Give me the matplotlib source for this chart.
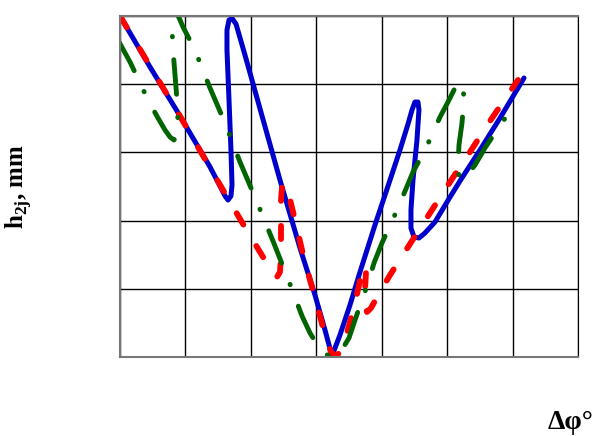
import matplotlib.pyplot as plt

plt.rcParams['lines.scale_dashes'] = False
plt.rcParams['mathtext.fontset'] = 'custom'
plt.rcParams['mathtext.rm'] = 'Liberation Serif:bold'
plt.rcParams['mathtext.bf'] = 'Liberation Serif:bold'

# curves (x in grid cells of dphi, y in grid cells of h)
blue_x = [0.000, 0.459, 0.871, 1.223, 1.376, 1.528, 1.605, 1.651, 1.696, 1.712,
          1.696, 1.666, 1.635, 1.635, 1.666, 1.712, 1.773, 1.910, 2.017, 2.445,
          2.751, 2.980, 3.133, 3.240, 3.362, 3.515, 3.668, 3.897, 4.127, 4.279,
          4.402, 4.463, 4.508, 4.554, 4.569, 4.539, 4.478, 4.447, 4.447, 4.493,
          4.570, 4.661, 4.814, 4.998, 5.196, 5.502, 5.808, 6.175]
blue_y = [5.000, 4.252, 3.607, 3.035, 2.786, 2.507, 2.361, 2.302, 2.361, 2.522,
          3.035, 3.768, 4.501, 4.795, 4.940, 4.965, 4.883, 4.428, 4.062, 2.595,
          1.598, 0.909, 0.396, 0.015, 0.323, 0.762, 1.246, 1.935, 2.595, 3.035,
          3.416, 3.622, 3.739, 3.739, 3.622, 3.182, 2.595, 2.155, 1.891, 1.760,
          1.745, 1.818, 1.979, 2.273, 2.581, 3.035, 3.504, 4.091]

red_x = [0.000, 0.871, 1.574, 1.880, 2.186, 2.293, 2.354, 2.400, 2.445, 2.461,
         2.461, 2.461, 2.476, 2.506, 2.552, 2.675, 2.782, 2.904, 3.011, 3.133,
         3.225, 3.301, 3.362, 3.439, 3.515, 3.592, 3.653, 3.699, 3.729, 3.760,
         3.744, 3.744, 3.775, 3.836, 3.973, 4.127, 4.432, 4.738, 5.044, 5.349,
         5.655, 6.083]
red_y = [5.000, 3.607, 2.449, 1.950, 1.466, 1.305, 1.202, 1.173, 1.246, 1.496,
         1.862, 2.302, 2.493, 2.551, 2.493, 2.009, 1.569, 1.129, 0.762, 0.323,
         0.073, 0.010, 0.073, 0.249, 0.513, 0.792, 1.056, 1.276, 1.349, 1.246,
         0.982, 0.762, 0.660, 0.718, 0.953, 1.202, 1.657, 2.111, 2.566, 3.006,
         3.460, 4.062]

green_x = [-0.031, 0.153, 0.306, 0.428, 0.581, 0.688, 0.764, 0.825, 0.871, 0.886,
           0.871, 0.841, 0.810, 0.795, 0.795, 0.825, 0.871, 0.963, 1.146, 1.253,
           1.376, 1.605, 1.834, 2.094, 2.338, 2.568, 2.782, 2.904, 3.026, 3.133,
           3.225, 3.316, 3.408, 3.500, 3.592, 3.790, 3.882, 4.004, 4.249, 4.478,
           4.661, 4.768, 4.891, 5.013, 5.105, 5.166, 5.212, 5.242, 5.258, 5.227,
           5.181, 5.166, 5.181, 5.227, 5.319, 5.426, 5.578, 5.762, 5.961]
green_y = [4.648, 4.326, 4.018, 3.768, 3.504, 3.328, 3.226, 3.182, 3.240, 3.446,
           3.768, 4.135, 4.501, 4.824, 5.000, 5.073, 5.044, 4.839, 4.501, 4.238,
           3.944, 3.431, 2.859, 2.273, 1.701, 1.144, 0.601, 0.352, 0.161, 0.044,
           0.010, 0.029, 0.132, 0.279, 0.543, 1.085, 1.378, 1.672, 2.185, 2.713,
           3.035, 3.255, 3.519, 3.739, 3.915, 4.003, 4.032, 3.974, 3.768, 3.431,
           3.109, 2.815, 2.639, 2.595, 2.683, 2.815, 3.065, 3.328, 3.607]

fig = plt.figure(figsize=(5.98, 4.36), dpi=100)
ax = fig.add_axes([120/598, 79/436, 458/598, 341/436])

ax.plot(blue_x, blue_y, color='#0000cc', lw=3.6, solid_joinstyle='round',
        solid_capstyle='round')
ax.plot(red_x, red_y, color='#ff0000', lw=4.2, linestyle=(0, (9.5, 18)),
        dash_capstyle='round', dash_joinstyle='round')
ax.plot(green_x, green_y, color='#006400', lw=3.5,
        linestyle=(0, (25, 16.5, 0.3, 16.5)),
        dash_capstyle='round', dash_joinstyle='round')

ax.set_xlim(0, 7)
ax.set_ylim(0, 5)
ax.set_xticks(range(8))
ax.set_yticks(range(6))
ax.tick_params(length=0, labelbottom=False, labelleft=False)
ax.grid(True, color='black', lw=1.0)
ax.set_axisbelow(True)
for side in ['left', 'top', 'bottom']:
    ax.spines[side].set_color('#777777')
    ax.spines[side].set_linewidth(1.5)
ax.spines['right'].set_color('black')

fig.text(19/598, 1 - 186/436, r'h$_{\mathbf{2j}}$, mm', rotation=90,
         ha='center', va='center', family='Liberation Serif',
         weight='bold', fontsize=18)
fig.text(594/598, 7/436, 'Δφ°', ha='right', va='baseline',
         family='Liberation Serif', weight='bold', fontsize=20)

fig.savefig('out.png', dpi=100)
